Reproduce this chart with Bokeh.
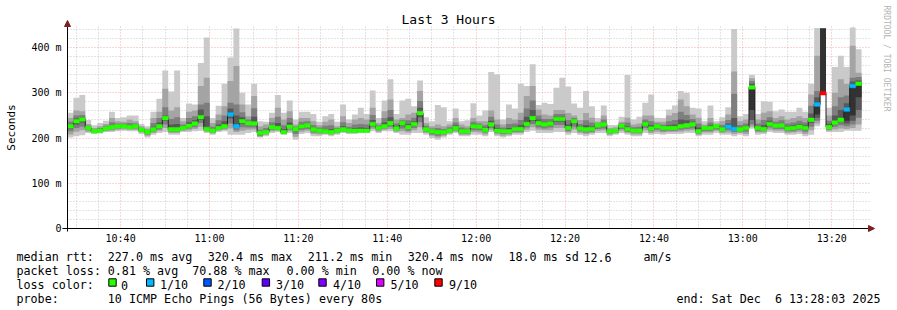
import math
from datetime import datetime
import numpy as np
from bokeh.plotting import figure
from bokeh.models import Range1d, FixedTicker, DatetimeTickFormatter, Label, Arrow, NormalHead
from bokeh.core.properties import value
from bokeh.embed import file_html
from bokeh.resources import INLINE

# ---------------- data ----------------
title_text = "Last 3 Hours"
y_unit_label = "Seconds"
watermark = "RRDTOOL / TOBI OETIKER"
end_time = datetime(2025, 12, 6, 13, 28, 3)
span_hours = 3
step_seconds = 80

median_rtt = [226,237,241,222,215,216,221,224,226,226,
              224,226,218,213,219,226,244,219,219,222,
              227,232,246,220,216,222,226,252,226,237,
              233,232,211,213,224,222,213,225,219,226,
              228,219,216,215,213,216,219,216,216,216,
              216,231,222,226,233,221,233,224,231,255,
              219,215,213,213,216,222,215,215,226,225,
              218,230,216,215,215,220,220,231,244,233,
              230,232,242,242,222,237,221,219,220,228,
              230,215,216,227,220,216,216,231,221,226,
              222,222,222,226,228,230,215,222,222,226,
              219,225,220,219,222,312,222,220,231,227,
              228,221,222,225,222,240,274,299,224,234,
              240,263,315,320]

loss_tenths = [0,0,0,0,0,0,0,0,0,0,
               0,0,0,0,0,0,0,0,0,0,
               0,0,0,0,0,0,0,1,1,0,
               0,0,0,0,0,0,0,0,0,0,
               0,0,0,0,0,0,0,0,0,0,
               0,0,0,0,0,0,0,0,0,0,
               0,0,0,0,0,0,0,0,0,0,
               0,0,0,0,0,0,0,0,0,0,
               0,0,0,0,0,0,0,0,0,0,
               0,0,0,0,0,0,0,0,0,0,
               0,0,0,0,0,0,0,0,0,0,
               0,1,1,0,0,0,0,0,0,0,
               0,0,0,0,0,0,1,9,0,0,
               0,1,1,0]

ping_1 = [201,204,206,211,209,210,213,213,215,216,
          215,215,209,201,207,211,213,207,207,213,
          213,215,216,211,207,213,215,207,207,207,
          211,213,201,204,211,213,207,211,196,209,
          211,204,204,207,204,207,211,209,209,211,
          211,215,211,215,215,211,207,207,211,211,
          207,200,196,201,207,211,204,204,207,207,
          204,213,204,201,204,207,207,213,216,211,
          211,211,213,213,207,211,207,204,207,211,
          211,204,207,211,207,204,204,211,207,209,
          207,209,209,209,211,211,204,207,207,211,
          207,207,204,207,204,221,207,209,213,211,
          211,207,207,209,204,207,226,299,213,213,
          213,216,216,216]
ping_2 = [208,214,217,214,211,212,215,216,218,219,
          218,218,212,205,211,216,222,211,211,216,
          217,220,225,214,210,216,218,221,213,216,
          218,219,203,207,215,216,209,215,203,214,
          216,209,208,209,207,210,213,211,211,213,
          213,220,214,218,220,214,215,212,217,224,
          211,205,201,205,210,214,207,207,213,212,
          208,218,208,205,207,211,211,218,224,218,
          217,217,222,222,212,219,211,209,211,216,
          217,207,210,216,211,208,208,217,211,214,
          212,213,213,214,216,217,207,212,212,216,
          211,212,209,211,209,225,212,212,218,216,
          216,211,212,214,209,217,232,299,216,219,
          221,220,222,230]
ping_3 = [215,222,225,217,212,213,217,219,221,222,
          220,221,214,208,214,219,230,214,214,218,
          221,224,233,216,212,218,221,232,217,224,
          223,223,205,209,218,218,210,219,209,218,
          220,212,211,211,209,212,215,213,213,214,
          214,224,217,221,225,217,221,216,222,235,
          214,208,205,208,212,217,210,210,217,217,
          212,222,211,209,210,214,214,223,231,223,
          221,223,229,229,215,225,215,212,214,220,
          221,210,212,220,214,211,211,222,215,218,
          215,216,216,218,220,221,210,215,215,219,
          214,217,213,214,214,230,215,215,223,220,
          220,215,215,218,214,225,238,299,219,225,
          228,226,230,245]
ping_4 = [221,230,234,220,214,215,219,222,224,224,
          222,224,216,211,217,223,238,217,217,220,
          224,229,240,218,214,220,224,243,222,231,
          229,228,207,211,221,220,212,222,214,223,
          225,216,214,213,211,214,217,215,215,215,
          215,228,220,224,229,219,228,221,227,246,
          217,212,210,211,214,220,213,213,222,221,
          215,227,214,212,213,217,217,227,238,229,
          226,228,236,236,219,232,218,216,217,225,
          226,213,214,224,217,214,214,227,218,223,
          219,219,219,223,225,226,213,219,219,223,
          217,221,217,217,218,240,219,218,227,224,
          225,218,219,222,218,233,245,299,222,230,
          235,232,238,262]
ping_5 = [225,236,240,221,214,215,220,223,225,225,
          223,225,217,212,218,225,243,218,218,221,
          226,231,245,219,215,221,225,251,225,236,
          232,231,210,212,223,221,212,224,218,225,
          227,218,215,214,212,215,218,215,215,215,
          215,230,221,225,232,220,232,223,230,254,
          218,214,212,212,215,221,214,214,225,224,
          217,229,215,214,214,219,219,230,243,232,
          229,231,241,241,221,236,220,218,219,227,
          229,214,215,226,219,215,215,230,220,225,
          221,221,221,225,227,229,214,221,221,225,
          218,224,219,218,221,262,221,219,230,226,
          227,220,221,224,221,239,252,299,223,233,
          239,238,250,290]
ping_6 = [227,238,242,223,216,217,222,225,227,227,
          225,227,219,214,220,227,245,220,220,223,
          228,233,247,221,217,223,227,253,227,238,
          234,233,212,214,225,223,214,226,220,227,
          229,220,217,216,214,217,220,217,217,217,
          217,232,223,227,234,222,234,225,232,256,
          220,216,214,214,217,223,216,216,227,226,
          219,231,217,216,216,221,221,232,245,234,
          231,233,243,243,223,238,222,220,221,229,
          231,216,217,228,221,217,217,232,222,227,
          223,223,223,227,229,231,216,223,223,227,
          220,226,221,220,223,316,223,221,232,228,
          229,222,223,226,223,241,276,442,225,235,
          241,265,318,322]
ping_7 = [230,243,246,224,217,219,224,229,229,229,
          228,229,220,215,225,234,250,230,231,226,
          235,239,263,248,220,230,237,265,250,246,
          237,247,214,217,229,233,220,234,222,231,
          232,224,219,220,220,219,226,220,222,223,
          222,240,225,234,246,226,236,231,237,267,
          223,218,217,216,220,228,219,218,231,228,
          223,238,222,219,222,225,229,247,262,241,
          236,237,247,247,230,240,226,228,226,230,
          235,217,218,229,226,220,220,236,228,229,
          226,229,230,241,239,236,223,224,228,228,
          224,232,244,224,227,320,227,229,238,231,
          233,226,228,231,228,254,290,442,231,250,
          262,277,325,327]
ping_8 = [236,250,251,227,219,222,227,235,232,232,
          233,232,222,217,233,244,268,242,246,230,
          244,248,274,278,225,239,250,278,274,257,
          241,266,218,222,235,247,228,244,225,236,
          237,229,223,227,228,222,235,225,230,231,
          230,251,228,244,262,232,239,239,245,282,
          227,221,222,220,224,234,223,221,236,232,
          228,247,230,223,231,232,240,265,283,250,
          242,242,253,253,240,244,231,239,234,232,
          241,219,220,232,234,224,225,241,237,232,
          230,237,240,258,251,242,232,226,234,229,
          229,240,298,229,232,326,232,240,246,236,
          239,232,234,238,234,271,304,442,238,270,
          290,294,333,335]
ping_9 = [244,261,259,231,222,226,231,244,237,236,
          241,237,226,221,244,258,309,261,268,237,
          258,261,315,333,233,252,270,326,359,274,
          248,293,226,230,244,267,241,259,230,244,
          244,237,228,236,241,226,248,233,241,244,
          241,267,233,259,285,241,244,252,256,304,
          233,226,230,226,230,244,230,226,244,237,
          237,261,241,230,244,241,256,293,315,263,
          252,250,262,262,255,250,240,255,245,236,
          250,222,224,236,245,230,232,250,250,236,
          236,250,255,285,270,252,245,230,244,232,
          237,252,347,237,241,332,241,256,259,244,
          248,241,244,248,244,296,382,442,250,300,
          330,320,404,344]
ping_10 = [256,289,295,240,228,233,238,258,244,246,
           250,250,231,226,258,287,349,303,349,244,
           276,274,366,422,244,271,320,378,442,300,
           274,320,237,236,256,295,256,283,241,258,
           258,253,236,248,253,236,274,241,252,267,
           253,305,244,283,330,253,283,287,270,327,
           246,237,273,268,237,265,237,239,277,250,
           261,346,341,241,274,265,320,315,363,273,
           278,275,311,333,314,276,267,304,270,244,
           272,229,229,247,339,241,247,278,296,245,
           244,263,272,304,300,267,265,237,272,237,
           246,268,441,248,253,340,253,281,280,259,
           263,258,258,267,258,320,443,442,267,357,
           382,357,444,396]

y_ticks = [0, 100, 200, 300, 400]
y_tick_labels = ["0", "100 m", "200 m", "300 m", "400 m"]
x_tick_times = ["10:40", "11:00", "11:20", "11:40", "12:00", "12:20", "12:40", "13:00", "13:20"]

loss_levels = [0, 1, 2, 3, 4, 5, 9]
loss_labels = ["0", "1/10", "2/10", "3/10", "4/10", "5/10", "9/10"]
loss_colors = ["#26ff00", "#00b8ff", "#0059ff", "#5e00ff", "#7e00ff", "#dd00ff", "#ff0000"]
smoke_colors = ["#cacaca", "#a4a4a4", "#7e7e7e", "#585858", "#323232"]

stat_rows = [
    ["median rtt:", "227.0 ms avg", "320.4 ms max", "211.2 ms min", "320.4 ms now", "18.0 ms sd", "12.6", "am/s"],
    ["packet loss:", "0.81 % avg", "70.88 % max", "0.00 % min", "0.00 % now"],
    ["loss color:"],
    ["probe:", "10 ICMP Echo Pings (56 Bytes) every 80s"],
]
end_text = "end: Sat Dec\u00a0\u00a06 13:28:03 2025"

# ---------------- layout constants (window pixels) ----------------
FONT = "DejaVu Sans Mono"
W, H = 897, 310
X0_PX, ZERO_PX = 67, 228        # left edge of the data area, y pixel of the zero line
PLOT_W = 800                    # pixels covering the 3 hours
PX_PER_VAL = 0.4525             # pixels per ms of rtt
ARROW_COLOR = "#7f1f1f"
MED_HALF = 4.0                  # half height of loss coloured median bar (ms)

epoch = datetime(1970, 1, 1)
span_ms = span_hours * 3600 * 1000
t_end = (end_time - epoch).total_seconds() * 1000
t0 = t_end - span_ms
ms_per_px = span_ms / PLOT_W


def px_x(px):
    return t0 + (px - X0_PX) * ms_per_px


def px_y(py):
    return (ZERO_PX - py) / PX_PER_VAL


n = len(median_rtt)
step_ms = step_seconds * 1000
edges = t0 + np.arange(n + 1) * step_ms
xs_step = np.repeat(edges, 2)[1:-1]


def stepped(v):
    return np.repeat(np.asarray(v, dtype=float), 2)


# the frame covers the whole window; axes sit at fixed data locations
p = figure(width=W, height=H, x_axis_type="datetime",
           x_range=Range1d(px_x(0), px_x(W)), y_range=Range1d(px_y(H), px_y(0)),
           output_backend="svg", toolbar_location=None,
           min_border=0, min_border_left=0, min_border_right=0,
           min_border_top=0, min_border_bottom=0)
p.outline_line_color = None
p.background_fill_color = "white"
p.border_fill_color = "white"

# smoke
pings = [ping_1, ping_2, ping_3, ping_4, ping_5, ping_6, ping_7, ping_8, ping_9, ping_10]
for i, col in enumerate(smoke_colors):
    p.varea(x=xs_step, y1=stepped(pings[i]), y2=stepped(pings[9 - i]), fill_color=col)

# median line
p.line(x=xs_step, y=stepped(median_rtt), line_color="#202020", line_width=1)

# loss coloured median bars
cmap = dict(zip(loss_levels, loss_colors))
bar_colors = [cmap[l] for l in loss_tenths]
med = np.asarray(median_rtt, dtype=float)
p.quad(left=edges[:-1], right=edges[1:], bottom=med - MED_HALF, top=med + MED_HALF,
       fill_color=bar_colors, line_color=bar_colors, line_width=0.5)

# ticks / grid
x_major = [(datetime.strptime(s, "%H:%M").replace(year=2025, month=12, day=6) - epoch).total_seconds() * 1000
           for s in x_tick_times]
five_min = 5 * 60 * 1000
x_minor = [float(t) for t in np.arange(x_major[0] - 4 * five_min, t_end, five_min)
           if t >= t0 and all(abs(t - m) > 1 for m in x_major)]
y_minor = [v for v in range(20, 460, 20) if v not in y_ticks]

xt = FixedTicker(ticks=x_major, minor_ticks=x_minor)
yt = FixedTicker(ticks=y_ticks, minor_ticks=y_minor)
p.xaxis.ticker = xt
p.yaxis.ticker = yt
p.xaxis.formatter = DatetimeTickFormatter(minutes="%H:%M", hourmin="%H:%M", hours="%H:%M",
                                          minsec="%H:%M", days="%H:%M")
p.yaxis.major_label_overrides = {t: l for t, l in zip(y_ticks, y_tick_labels)}

xg, yg = p.xgrid[0], p.ygrid[0]
xg.ticker = xt
yg.ticker = yt
xg.bounds = (t0, t_end)
yg.bounds = (0, 450)
grid_ok = True
try:
    xg.cross_bounds = (0, px_y(25))
    yg.cross_bounds = (t0, px_x(869))
except Exception:
    grid_ok = False

if grid_ok:
    for g in (xg, yg):
        g.grid_line_color = "#ff0000"
        g.grid_line_alpha = 0.35
        g.grid_line_dash = "1 2"
        g.minor_grid_line_color = "#b0b0b0"
        g.minor_grid_line_alpha = 0.7
        g.minor_grid_line_dash = "1 2"
else:
    xg.visible = False
    yg.visible = False
    p.segment(x0=x_minor, x1=x_minor, y0=0, y1=px_y(25), line_color="#b0b0b0", line_alpha=0.7, line_dash="1 2")
    p.segment(x0=x_major, x1=x_major, y0=0, y1=px_y(25), line_color="#ff0000", line_alpha=0.35, line_dash="1 2")
    p.segment(x0=t0, x1=px_x(869), y0=y_minor, y1=y_minor, line_color="#b0b0b0", line_alpha=0.7, line_dash="1 2")
    p.segment(x0=t0, x1=px_x(869), y0=y_ticks, y1=y_ticks, line_color="#ff0000", line_alpha=0.35, line_dash="1 2")

xa, ya = p.xaxis[0], p.yaxis[0]
xa.fixed_location = 0
ya.fixed_location = t0
xa.bounds = (px_x(62), px_x(869))
ya.bounds = (px_y(231), px_y(25))
for ax in (xa, ya):
    ax.axis_line_color = "black"
    ax.axis_line_width = 1
    ax.major_tick_line_color = None
    ax.minor_tick_line_color = None
    ax.major_tick_in = 0
    ax.major_tick_out = 0
    ax.minor_tick_in = 0
    ax.minor_tick_out = 0
    ax.major_label_text_font = FONT
    ax.major_label_text_font_size = "10px"
    ax.major_label_text_color = "black"
ya.major_label_standoff = 6
xa.major_label_standoff = 4

# axis arrows
p.add_layout(Arrow(end=NormalHead(size=6, fill_color=ARROW_COLOR, line_color=ARROW_COLOR),
                   x_start=t0, y_start=px_y(27), x_end=t0, y_end=px_y(20), line_alpha=0))
p.add_layout(Arrow(end=NormalHead(size=6, fill_color=ARROW_COLOR, line_color=ARROW_COLOR),
                   x_start=px_x(867), y_start=0, x_end=px_x(874), y_end=0, line_alpha=0))

# texts
p.add_layout(Label(x=px_x(448), y=px_y(19), text=title_text, text_align="center",
                   text_baseline="middle", text_font=FONT, text_font_size="13px", text_color="black"))
p.add_layout(Label(x=px_x(11), y=px_y(127), text=y_unit_label, angle=math.pi / 2, text_align="center",
                   text_baseline="middle", text_font=FONT, text_font_size="11px", text_color="black"))
p.add_layout(Label(x=px_x(886), y=px_y(5), text=watermark, angle=-math.pi / 2, text_align="left",
                   text_baseline="middle", text_font=FONT, text_font_size="8px", text_color="#b4b4b4"))

row_base = [256.5, 270.5, 284.5, 298.5]
row_x = [
    [16, 107.3, 207.3, 307.3, 407.3, 508, 583, 643],
    [16, 107.3, 191.7, 286, 371.7],
    [16],
    [16, 107.3],
]
tx, ty, tt = [], [], []
for r, (texts, xs_r) in enumerate(zip(stat_rows, row_x)):
    for t, x in zip(texts, xs_r):
        tx.append(px_x(x)); ty.append(px_y(row_base[r])); tt.append(t)
box_x = [108.3, 146, 203.3, 261.7, 318.3, 376, 434.3]
lab_x = [120.5, 159.5, 217, 275.5, 332.5, 390, 448.5]
for x, t in zip(lab_x, loss_labels):
    tx.append(px_x(x)); ty.append(px_y(row_base[2])); tt.append(t)
p.text(x=tx, y=ty, text=tt, text_font=value(FONT), text_font_size="11.7px",
       text_baseline="alphabetic", text_align="left", text_color="black")
p.text(x=[px_x(880)], y=[px_y(row_base[3])], text=[end_text], text_font=value(FONT),
       text_font_size="11.7px", text_baseline="alphabetic", text_align="right", text_color="black")
bl = np.array([px_x(x) for x in box_x])
br = np.array([px_x(x + 7.4) for x in box_x])
p.quad(left=bl, right=br, top=[px_y(278.3)] * len(bl), bottom=[px_y(285.7)] * len(bl),
       fill_color=loss_colors, line_color="black", line_width=1)

open("out.html", "w").write(file_html(p, INLINE))
